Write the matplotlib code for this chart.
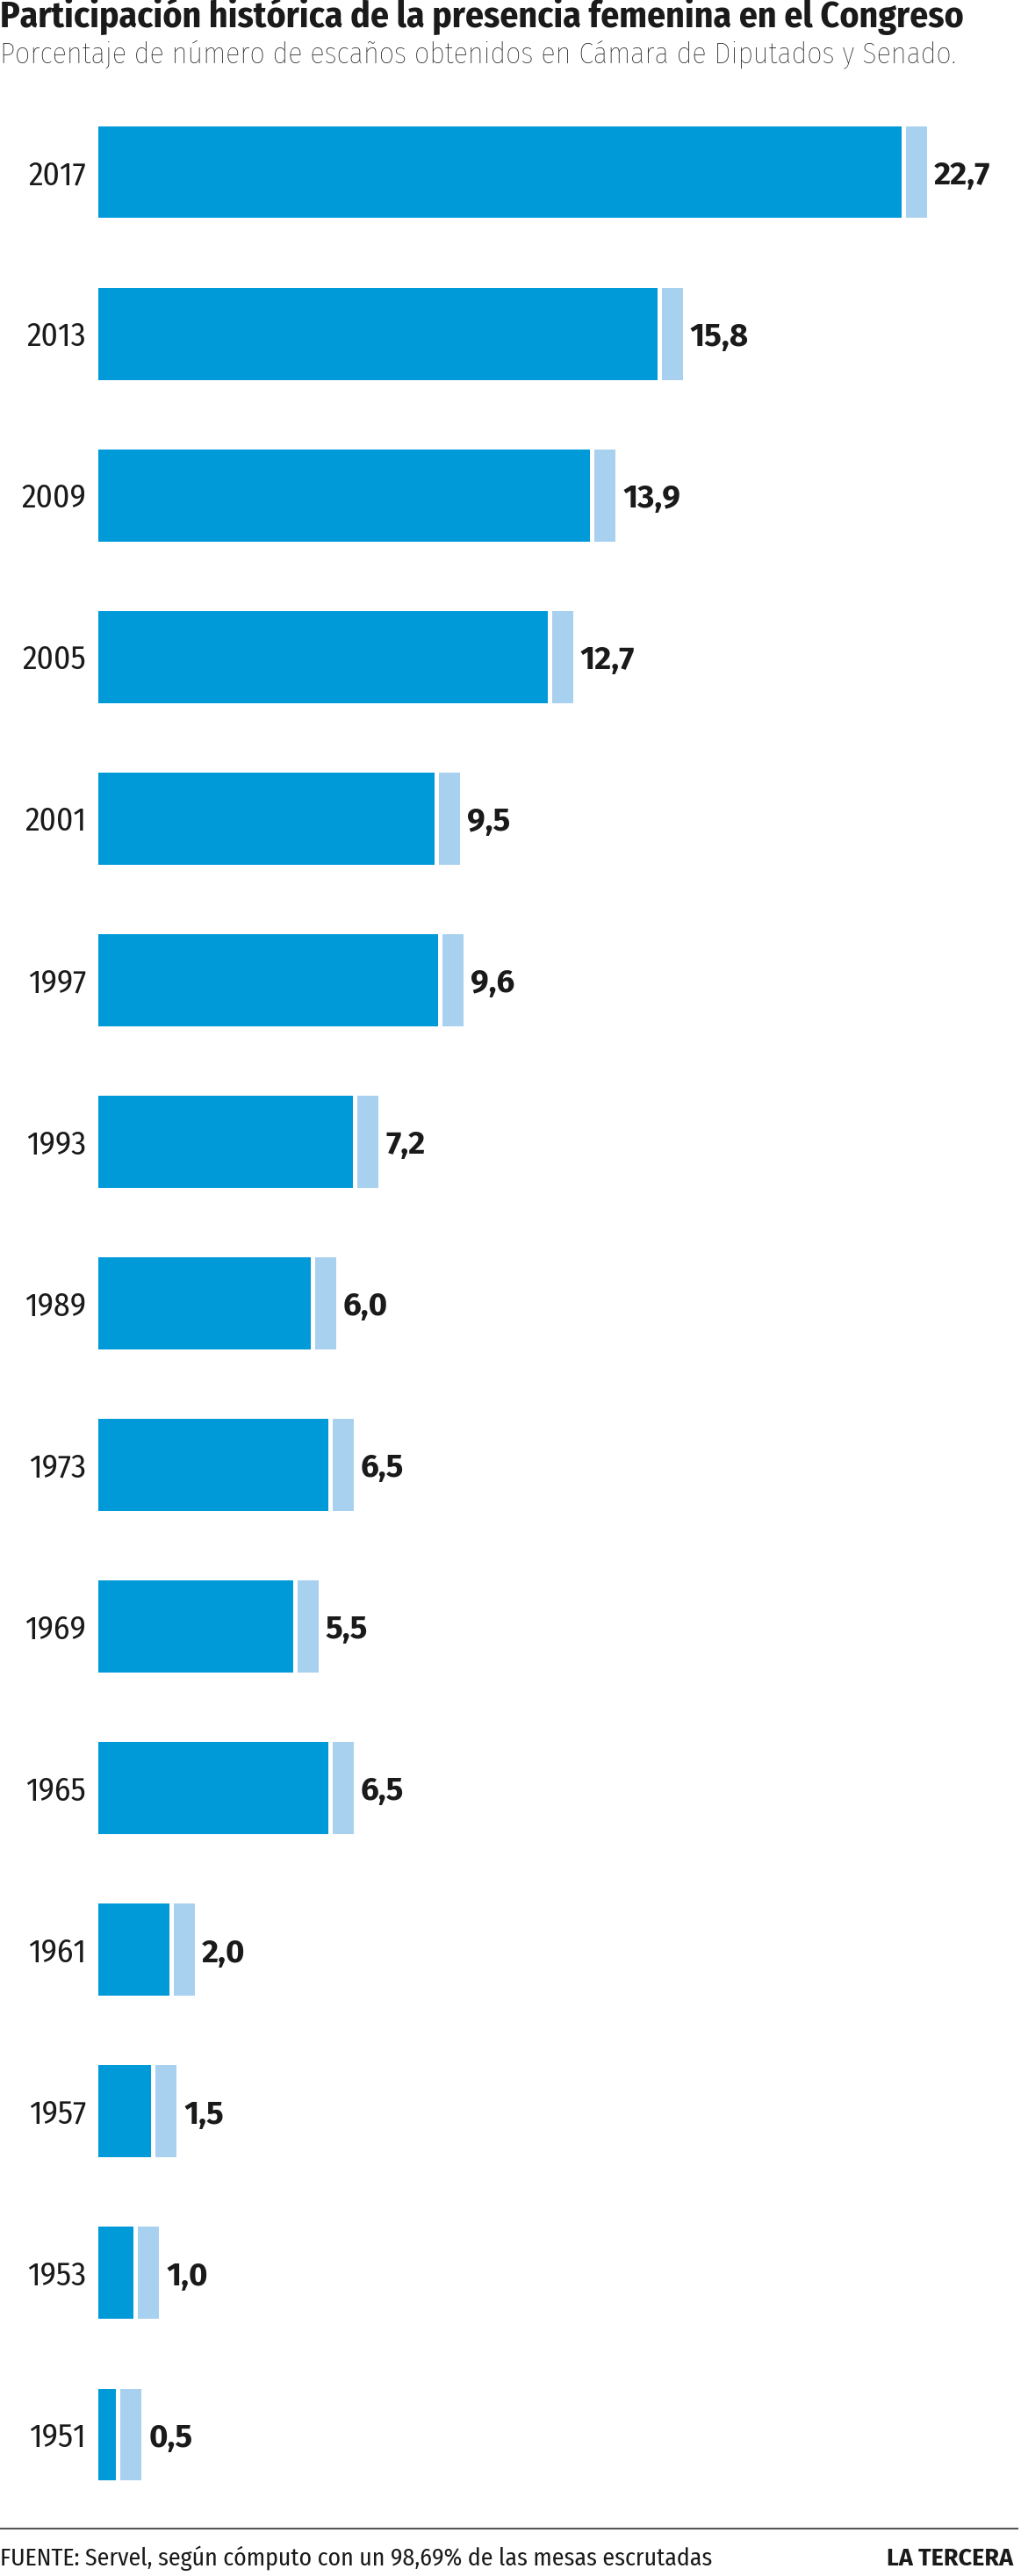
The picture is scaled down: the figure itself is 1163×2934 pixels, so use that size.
import matplotlib.pyplot as plt

years = ['2017', '2013', '2009', '2005', '2001', '1997', '1993', '1989',
         '1973', '1969', '1965', '1961', '1957', '1953', '1951']
values = [22.7, 15.8, 13.9, 12.7, 9.5, 9.6, 7.2, 6.0,
          6.5, 5.5, 6.5, 2.0, 1.5, 1.0, 0.5]

title = 'Participación histórica de la presencia femenina en el Congreso'
subtitle = 'Porcentaje de número de escaños obtenidos en Cámara de Diputados y Senado.'
source = 'FUENTE: Servel, según cómputo con un 98,69% de las mesas escrutadas'
brand = 'LA TERCERA'

dark = '#009ad9'
light = '#a8d0ef'
ink = '#1a1a1a'

cond = ['Fira Sans Condensed', 'Roboto Condensed', 'DejaVu Sans']
wide = ['Fira Sans', 'Open Sans', 'DejaVu Sans']

W, H = 1163, 2934
fig = plt.figure(figsize=(W / 100, H / 100), dpi=100)


def fit(t, width_px):
    # scale a text's font size so it spans the given width in pixels
    r = fig.canvas.get_renderer()
    w = t.get_window_extent(r).width
    t.set_fontsize(t.get_fontsize() * width_px / w)


# axes placed in pixels: bars start at 112px, 184px between rows
left_px, top_px, bot_px = 112, 104, 2865
ax = fig.add_axes([left_px / W, 1 - bot_px / H, 1 - left_px / W, (bot_px - top_px) / H])
px = 40.3  # pixels per percentage point
ax.set_xlim(0, (W - left_px) / px)
ax.set_ylim(len(years) - 0.5, -0.5)

gap = 5 / px
cap = 24 / px
pos = list(range(len(years)))
ax.barh(pos, values, height=0.57, color=dark, linewidth=0)
ax.barh(pos, [cap] * len(values), left=[v + gap for v in values],
        height=0.57, color=light, linewidth=0)

for i, v in enumerate(values):
    ax.text(v + gap + cap + 8 / px, i, f'{v:.1f}'.replace('.', ','),
            va='center_baseline', ha='left', fontsize=26.5, fontweight='bold',
            family=wide, color=ink)

ax.set_yticks(pos)
ax.set_yticklabels(years, fontsize=27, family=cond, fontstretch='condensed', color=ink)
for lab in ax.get_yticklabels():
    lab.set_verticalalignment('center_baseline')
ax.tick_params(axis='y', length=0, pad=10)
ax.set_xticks([])
for s in ax.spines.values():
    s.set_visible(False)

t1 = fig.text(0, 1 - 31 / H, title, fontsize=26, fontweight='bold', va='baseline',
              family=cond, fontstretch='condensed', color=ink)
fit(t1, 1100)
t2 = fig.text(0, 1 - 71 / H, subtitle, fontsize=24, fontweight='light', va='baseline',
              family=cond, fontstretch='condensed', color='#111111')
fit(t2, 1090)

fig.add_artist(plt.Line2D([0, 1159 / W], [1 - 2880 / H] * 2, color='#555555', linewidth=1.5))
t3 = fig.text(0, 1 - 2922 / H, source, fontsize=18, va='baseline',
              family=cond, fontstretch='condensed', color=ink)
fit(t3, 813)
t4 = fig.text(1154 / W, 1 - 2922 / H, brand, fontsize=17, fontweight='bold', va='baseline',
              ha='right', family=wide, color=ink)
fit(t4, 144)

fig.savefig('out.png', dpi=100)
